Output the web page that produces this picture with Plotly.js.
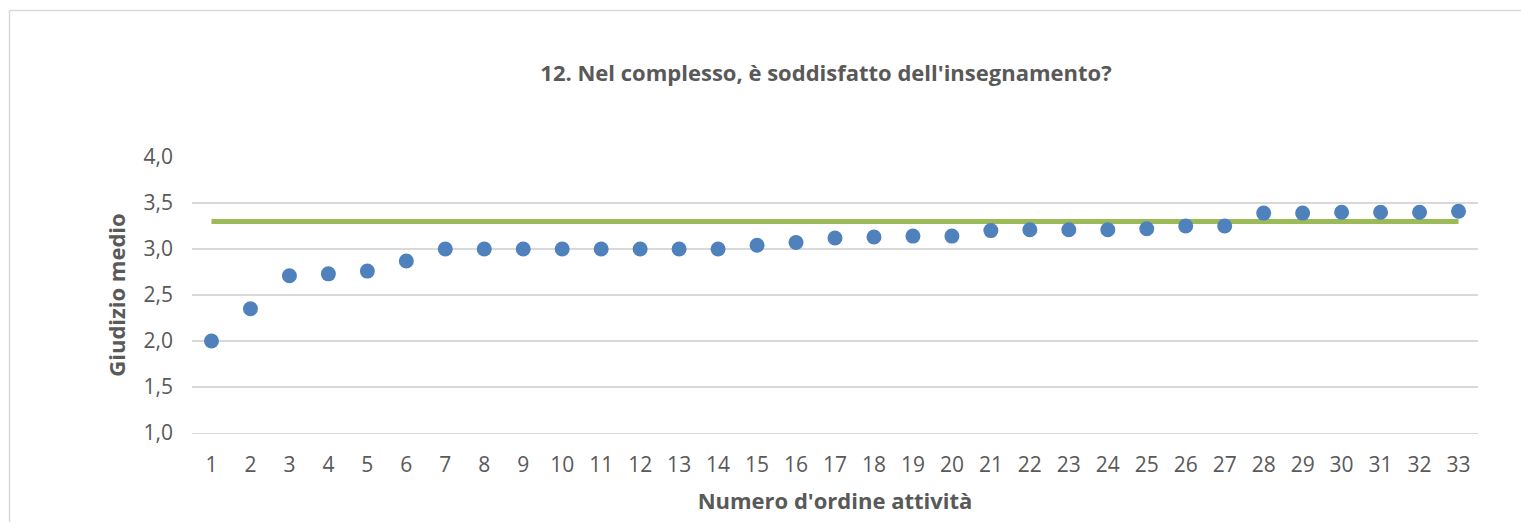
<!DOCTYPE html>
<html>
<head>
<meta charset="utf-8">
<script src="https://cdn.plot.ly/plotly-3.0.1.min.js"></script>
<style>
  html, body { margin: 0; padding: 0; background: #ffffff; }
  #chart { width: 1521px; height: 522px; }
</style>
</head>
<body>
<div id="chart"></div>
<script>
// Numero d'ordine attività
const attivita = [1, 2, 3, 4, 5, 6, 7, 8, 9, 10, 11, 12, 13, 14, 15, 16, 17, 18, 19, 20, 21, 22, 23, 24, 25, 26, 27, 28, 29, 30, 31, 32, 33];
// Giudizio medio per attività
const giudizio = [2.00, 2.35, 2.71, 2.73, 2.76, 2.87, 3.00, 3.00, 3.00, 3.00, 3.00, 3.00, 3.00, 3.00, 3.04, 3.07, 3.12, 3.13, 3.14, 3.14, 3.20, 3.21, 3.21, 3.21, 3.22, 3.25, 3.25, 3.39, 3.39, 3.40, 3.40, 3.40, 3.41];
// Media complessiva
const media = [3.30, 3.30, 3.30, 3.30, 3.30, 3.30, 3.30, 3.30, 3.30, 3.30, 3.30, 3.30, 3.30, 3.30, 3.30, 3.30, 3.30, 3.30, 3.30, 3.30, 3.30, 3.30, 3.30, 3.30, 3.30, 3.30, 3.30, 3.30, 3.30, 3.30, 3.30, 3.30, 3.30];
const yTicks = [1.0, 1.5, 2.0, 2.5, 3.0, 3.5, 4.0];

const titleText = "12. Nel complesso, è soddisfatto dell'insegnamento?";
const xTitle = "Numero d'ordine attività";
const yTitle = "Giudizio medio";

const FONT = "Open Sans, Calibri, sans-serif";
const TXT = "#595959";
const GRID = "#d9d9d9";

const traces = [
  {
    x: attivita, y: media, type: "scatter", mode: "lines", name: "Media",
    line: { color: "#9BBB59", width: 5 }, hoverinfo: "y", showlegend: false
  },
  {
    x: attivita, y: giudizio, type: "scatter", mode: "markers", name: "Giudizio medio",
    marker: { color: "#4F81BD", size: 15, line: { width: 0 } }, showlegend: false
  }
];

const layout = {
  width: 1521, height: 522,
  paper_bgcolor: "#ffffff", plot_bgcolor: "#ffffff",
  separators: ",.",
  font: { family: FONT, color: TXT, size: 21 },
  margin: { l: 192, r: 43, t: 157, b: 89, pad: 0 },
  title: {
    text: "<b>" + titleText + "</b>",
    font: { family: FONT, size: 22, color: TXT },
    xref: "container", x: 826 / 1521, xanchor: "center",
    yref: "container", y: 1 - 73 / 522, yanchor: "middle"
  },
  xaxis: {
    range: [0.5, 33.5],
    tickmode: "array", tickvals: attivita, ticktext: attivita.map(String),
    showgrid: false, zeroline: false,
    showline: true, linecolor: GRID, linewidth: 1.3,
    ticks: "", ticklabelstandoff: 12,
    tickfont: { family: FONT, size: 21, color: TXT },
    title: { text: "<b>" + xTitle + "</b>", font: { family: FONT, size: 22, color: TXT }, standoff: 17 },
    fixedrange: true
  },
  yaxis: {
    range: [1, 4],
    tickmode: "array", tickvals: yTicks, tickformat: ".1f",
    showgrid: true, gridcolor: GRID, gridwidth: 1.3,
    zeroline: false, showline: false, ticks: "",
    ticklabelstandoff: 18,
    tickfont: { family: FONT, size: 21, color: TXT },
    title: { text: "<b>" + yTitle + "</b>", font: { family: FONT, size: 22, color: TXT }, standoff: 11 },
    fixedrange: true
  },
  shapes: [
    {
      type: "line", xref: "paper", yref: "paper", layer: "below",
      x0: (9.5 - 192) / 1286, x1: (1530 - 192) / 1286,
      y0: (433 - 10.5) / 276, y1: (433 - 10.5) / 276,
      line: { color: GRID, width: 1.5 }
    },
    {
      type: "line", xref: "paper", yref: "paper", layer: "below",
      x0: (9.5 - 192) / 1286, x1: (9.5 - 192) / 1286,
      y0: (433 - 10.5) / 276, y1: (433 - 530) / 276,
      line: { color: GRID, width: 1.5 }
    }
  ]
};

Plotly.newPlot("chart", traces, layout, { displayModeBar: false, staticPlot: true });
</script>
</body>
</html>
